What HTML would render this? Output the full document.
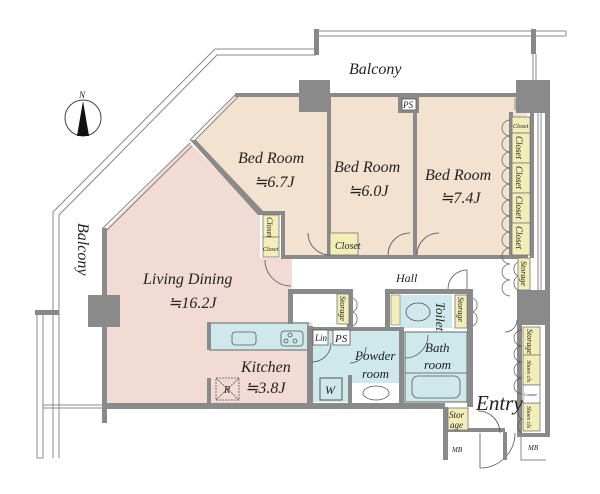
<!DOCTYPE html>
<html><head><meta charset="utf-8"><style>
html,body{margin:0;padding:0;background:#fff;}
svg{display:block;}
text{font-family:"Liberation Serif",serif;font-style:italic;fill:#222;}
</style></head><body>
<svg width="600" height="494" viewBox="0 0 600 494" xmlns="http://www.w3.org/2000/svg">
<!-- balcony rails -->
<g fill="none" stroke="#888" stroke-width="1">
<polyline points="53,458 53,212 215,49 316,49"/>
<polyline points="59,458 59,215 217,55 316,55"/>
<line x1="316" y1="31" x2="566" y2="31"/><line x1="316" y1="36" x2="566" y2="36"/>
<line x1="566" y1="31" x2="566" y2="36"/>
<line x1="533" y1="54" x2="533" y2="82"/><line x1="536" y1="54" x2="536" y2="82"/>
<line x1="37" y1="314" x2="37" y2="458"/><line x1="43" y1="314" x2="43" y2="458"/>
<line x1="37" y1="458" x2="43" y2="458"/>
<line x1="43" y1="405" x2="103" y2="405"/><line x1="43" y1="408" x2="103" y2="408"/>
</g>
<rect x="35" y="310" width="24" height="5" fill="#888"/>
<rect x="314" y="29" width="5" height="26" fill="#888"/>
<rect x="531" y="29" width="5" height="25" fill="#888"/>
<!-- room fills -->
<polygon points="235,95 527,95 527,257 292,257 292,258 283,258 283,213 260,213 193,143" fill="#f2e2cf"/>
<polygon points="190,143 260,213 260,258 292,258 292,322 312,322 312,405 107,405 107,228" fill="#f2dad5"/>
<rect x="292" y="257" width="226" height="34" fill="#fff"/>
<rect x="210" y="323" width="98" height="27" fill="#cfe8ec" stroke="#666"/>
<rect x="312" y="330" width="90" height="72" fill="#cfe8ec"/>
<rect x="350" y="383" width="50" height="20" fill="#fff"/>
<rect x="405" y="332" width="62" height="70" fill="#cfe8ec" stroke="#666"/>
<rect x="400" y="295" width="52" height="33" fill="#cfe8ec"/>
<!-- walls -->
<g fill="#8a8a8a">
<rect x="235" y="93" width="290" height="4"/>
<polygon points="190,140 196,140 263,211 258,215"/>
<rect x="258" y="211" width="27" height="4"/>
<rect x="281" y="211" width="4" height="48"/>
<rect x="327" y="97" width="4" height="162"/>
<rect x="413" y="97" width="4" height="162"/>
<rect x="283" y="255" width="245" height="4"/>
<rect x="299" y="80" width="31" height="32"/>
<rect x="516" y="80" width="34" height="33"/>
<rect x="398" y="95" width="21" height="18"/>
<rect x="545" y="112" width="5" height="325"/>
<rect x="517" y="290" width="33" height="35"/>
<rect x="102" y="228" width="5" height="195"/>
<rect x="88" y="295" width="32" height="32"/>
<rect x="102" y="403" width="343" height="6"/>
<rect x="443" y="407" width="5" height="52"/>
<rect x="445" y="428" width="60" height="4"/>
<rect x="288" y="289" width="65" height="5"/>
<rect x="288" y="289" width="5" height="35"/>
<rect x="347" y="289" width="6" height="42"/>
<rect x="307" y="326" width="6" height="80"/>
<rect x="307" y="327" width="95" height="4"/>
<rect x="399" y="327" width="5" height="80"/>
<rect x="348" y="375" width="4" height="30"/>
<rect x="385" y="289" width="88" height="5"/>
<rect x="385" y="289" width="5" height="42"/>
<rect x="467" y="289" width="6" height="118"/>
<rect x="509" y="112" width="4" height="145"/>
<rect x="530" y="112" width="4" height="146"/>
<rect x="517" y="325" width="5" height="110"/>
<rect x="517" y="433" width="33" height="4"/>
<rect x="207" y="322" width="4" height="28"/>
<rect x="207" y="378" width="4" height="28"/>
</g>
<!-- windows -->
<g stroke="#888" fill="none">
<polyline points="235,95 190,140"/><polyline points="238,97 193,142"/>
<polyline points="190,143 103,228"/><polyline points="192,146 106,231"/>
<line x1="330" y1="95" x2="398" y2="95"/><line x1="419" y1="95" x2="516" y2="95"/>
<line x1="538" y1="113" x2="538" y2="290"/><line x1="541" y1="113" x2="541" y2="290"/>
<line x1="515" y1="98" x2="515" y2="110"/>
</g>
<!-- storage boxes -->
<g fill="#f3edb8" stroke="#777" stroke-width="0.8">
<rect x="263" y="215" width="16" height="22"/><rect x="263" y="237" width="16" height="20"/>
<rect x="330" y="233" width="28" height="22"/>
<rect x="512" y="117" width="18" height="16"/>
<rect x="512" y="133" width="18" height="30"/><rect x="512" y="163" width="18" height="30"/>
<rect x="512" y="193" width="18" height="30"/><rect x="512" y="223" width="18" height="32"/>
<rect x="518" y="258" width="12" height="32"/>
<rect x="337" y="294" width="12" height="30"/>
<rect x="455" y="295" width="12" height="33"/>
<rect x="523" y="327" width="17" height="28"/><rect x="523" y="355" width="17" height="30"/>
<rect x="523" y="403" width="17" height="28"/>
<rect x="448" y="408" width="20" height="22"/>
</g>
<rect x="523" y="385" width="17" height="18" fill="#fff" stroke="#777" stroke-width="0.8"/>
<rect x="402" y="99" width="14" height="11" fill="#fff" stroke="#555" stroke-width="0.8"/>
<rect x="313" y="330" width="15" height="15" fill="#fff" stroke="#555" stroke-width="0.8"/>
<rect x="333" y="330" width="17" height="15" fill="#fff" stroke="#555" stroke-width="0.8"/>
<rect x="320" y="378" width="22" height="22" fill="#cfe8ec" stroke="#555"/>
<rect x="391" y="295" width="9" height="30" fill="#f3edb8" stroke="#777" stroke-width="0.6"/>
<!-- fixtures -->
<g fill="none" stroke="#555" stroke-width="0.8">
<rect x="232" y="332" width="24" height="13" rx="3"/>
<rect x="281" y="331" width="22" height="15" rx="3"/>
<circle cx="290" cy="335" r="2"/><circle cx="286" cy="341" r="2"/><circle cx="295" cy="341" r="2"/>
<ellipse cx="376" cy="393" rx="13" ry="7"/>
<rect x="412" y="376" width="48" height="22" rx="6"/>
<line x1="405" y1="373" x2="467" y2="373"/>
<ellipse cx="418" cy="312" rx="12" ry="9"/>
<rect x="216" y="378" width="23" height="22" stroke-dasharray="2,1"/>
<line x1="216" y1="378" x2="239" y2="400" stroke-dasharray="2,1"/><line x1="239" y1="378" x2="216" y2="400" stroke-dasharray="2,1"/>
<path d="M265,260 A26,26 0 0 0 291,286"/>
<path d="M330,255 A22,22 0 0 1 308,233"/>
<path d="M388,255 A22,22 0 0 1 410,233"/>
<path d="M417,255 A22,22 0 0 1 439,233"/>
<path d="M448,289 A19,19 0 0 1 467,270 L467,289"/>
<path d="M312,362 A19,19 0 0 0 331,343"/>
<path d="M350,363 A16,16 0 0 0 366,347"/>
<path d="M405,358 A23,23 0 0 0 428,335"/>
<path d="M478,411 A22,22 0 0 1 500,433"/>
<path d="M480,433 L480,468 A35,35 0 0 0 515,433"/>
<path d="M517,320 A12,12 0 0 1 505,332"/>
</g>
<g fill="none" stroke="#555" stroke-width="0.7">
<path d="M510,120 a8,8 0 0 0 0,16 a8,8 0 0 0 0,16 a8,8 0 0 0 0,16 a8,8 0 0 0 0,16 a8,8 0 0 0 0,16 a8,8 0 0 0 0,16 a8,8 0 0 0 0,16 a8,8 0 0 0 0,16 a8,8 0 0 0 0,16 a8,8 0 0 0 0,16 a8,8 0 0 0 0,16"/>
<path d="M522,330 a8,8 0 0 0 0,16 a8,8 0 0 0 0,16 a8,8 0 0 0 0,16 a8,8 0 0 0 0,16 M522,405 a8,8 0 0 0 0,14 a8,8 0 0 0 0,14"/>
<path d="M518,262 a8,8 0 0 0 0,14 a8,8 0 0 0 0,14"/>
<path d="M353,298 a8,8 0 0 1 0,14 a8,8 0 0 1 0,14"/>
<path d="M473,298 a8,8 0 0 1 0,14 a8,8 0 0 1 0,14"/>
</g>
<g fill="#8a8a8a"><rect x="443" y="432" width="5" height="28"/><rect x="503" y="432" width="4" height="28"/></g>
<polyline points="521,437 521,460 546,460" fill="none" stroke="#888"/>
<!-- compass -->
<circle cx="83" cy="118" r="18" fill="#fff" stroke="#444"/>
<polygon points="83,101 77,136 89,136" fill="#111"/>
<text x="79" y="98" font-size="9">N</text>
<!-- labels -->
<text x="349" y="74" font-size="16">Balcony</text>
<text transform="translate(78,223) rotate(90)" font-size="16">Balcony</text>
<text x="238" y="163" font-size="16">Bed Room</text>
<text x="254" y="187" font-size="16">≒6.7J</text>
<text x="334" y="172" font-size="16">Bed Room</text>
<text x="348" y="196" font-size="16">≒6.0J</text>
<text x="425" y="180" font-size="16">Bed Room</text>
<text x="440" y="203" font-size="16">≒7.4J</text>
<text x="143" y="284" font-size="16">Living Dining</text>
<text x="168" y="308" font-size="16">≒16.2J</text>
<text x="241" y="372" font-size="16">Kitchen</text>
<text x="245" y="393" font-size="16">≒3.8J</text>
<text x="396" y="282" font-size="12">Hall</text>
<text x="355" y="360" font-size="13">Powder</text>
<text x="362" y="378" font-size="13">room</text>
<text x="425" y="352" font-size="13">Bath</text>
<text x="424" y="369" font-size="13">room</text>
<text x="476" y="410" font-size="21">Entry</text>
<text x="325" y="394" font-size="12">W</text>
<text x="224" y="393" font-size="10">R</text>
<text x="315" y="341" font-size="9">Lin</text>
<text x="335" y="342" font-size="11">PS</text>
<text x="403" y="108" font-size="9">PS</text>
<text x="335" y="249" font-size="10">Closet</text>
<text x="449" y="418" font-size="9">Stor</text>
<text x="450" y="428" font-size="9">age</text>
<text x="452" y="452" font-size="7">MB</text>
<text x="528" y="450" font-size="7">MB</text>
<text transform="translate(436,302) rotate(90)" font-size="13">Toilet</text>
<g font-size="9">
<text transform="translate(267,217) rotate(90)" font-size="8">Closet</text>
<text x="263" y="251" font-size="6">Closet</text>
<text x="513" y="128" font-size="6">Closet</text>
<text transform="translate(516,136) rotate(90)">Closet</text>
<text transform="translate(516,166) rotate(90)">Closet</text>
<text transform="translate(516,196) rotate(90)">Closet</text>
<text transform="translate(516,226) rotate(90)">Closet</text>
<text transform="translate(521,261) rotate(90)" font-size="8">Storage</text>
<text transform="translate(340,296) rotate(90)" font-size="8">Storage</text>
<text transform="translate(458,297) rotate(90)" font-size="8">Storage</text>
<text transform="translate(527,329) rotate(90)" font-size="8">Storage</text>
<text transform="translate(527,360) rotate(90)" font-size="6">Shoes cls</text>
<text transform="translate(527,406) rotate(90)" font-size="6">Shoes cls</text>
<text x="524" y="396" font-size="4">Counter</text>
</g>
</svg>
</body></html>
